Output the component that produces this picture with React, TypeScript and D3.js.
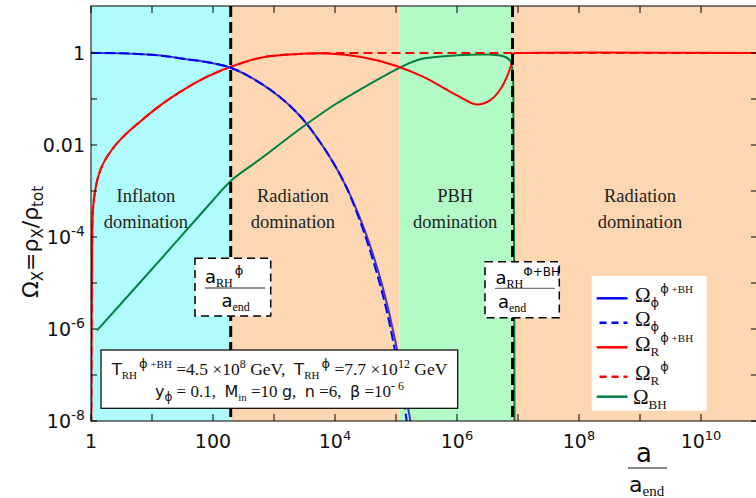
import React from 'react';
import * as d3 from 'd3';

// ---------- data (log10 values) ----------
const xTickExps = [0, 1, 2, 3, 4, 5, 6, 7, 8, 9, 10];
const xLabelExps = [0, 2, 4, 6, 8, 10];
const yTickExps = [0, -1, -2, -3, -4, -5, -6, -7, -8];
const yLabelExps = [0, -2, -4, -6, -8];

// phase boundaries (log10 a/a_end)
const logARH_phi = 2.29;
const logAPBHstart = 5.054;
const logARH_phiBH = 6.91;

const regionStarts = [0, logARH_phi, logAPBHstart, logARH_phiBH];
const regionEnds = [logARH_phi, logAPBHstart, logARH_phiBH, 11];
const regionNames1 = ['Inflaton', 'Radiation', 'PBH', 'Radiation'];
const regionNames2 = ['domination', 'domination', 'domination', 'domination'];
const regionLabelLogA = [0.9, 3.31, 5.97, 9.0];

// Omega_phi (phi+BH), solid
const omegaPhiBH: number[][] = [
  [0, 0], [0.5, -0.005], [1.0, -0.04], [1.316, -0.085], [1.59, -0.14], [1.864, -0.19],
  [2.136, -0.26], [2.29, -0.32], [2.4, -0.38], [2.5, -0.445], [2.79, -0.665], [3.1, -0.96],
  [3.34, -1.25], [3.53, -1.53], [3.91, -2.25], [4.19, -2.92], [4.46, -3.76], [4.68, -4.62],
  [4.85, -5.44], [4.98, -6.21], [5.1, -7.0], [5.23, -7.95], [5.32, -8.65],
];
// Omega_phi (phi only), dashed
const omegaPhi: number[][] = [
  [0, 0], [0.5, -0.005], [1.0, -0.04], [1.316, -0.085], [1.59, -0.14], [1.864, -0.19],
  [2.136, -0.26], [2.29, -0.32], [2.4, -0.38], [2.5, -0.445], [2.79, -0.665], [3.1, -0.96],
  [3.34, -1.25], [3.53, -1.53], [3.91, -2.25], [4.19, -2.93], [4.46, -3.84], [4.68, -4.76],
  [4.85, -5.62], [4.98, -6.45], [5.1, -7.3], [5.17, -7.95], [5.25, -8.65],
];
// Omega_R (phi+BH), solid
const omegaRBH: number[][] = [
  [0, -9], [0.003, -8.5], [0.01, -6.0], [0.018, -4.2], [0.03, -3.45], [0.06, -3.06],
  [0.115, -2.7], [0.197, -2.41], [0.333, -2.12], [0.497, -1.86], [0.77, -1.53], [1.044, -1.23],
  [1.316, -0.97], [1.59, -0.74], [1.864, -0.54], [2.136, -0.38], [2.29, -0.3], [2.79, -0.1],
  [3.34, -0.025], [3.89, -0.01], [4.43, -0.087], [4.98, -0.27], [5.45, -0.52], [6.0, -0.92],
  [6.32, -1.12], [6.54, -1.03], [6.7, -0.81], [6.84, -0.45], [6.9, -0.2], [6.93, -0.01],
  [7.0, 0], [11, 0],
];
// Omega_R (phi only), dashed
const omegaR: number[][] = [
  [0, -9], [0.003, -8.5], [0.01, -6.0], [0.018, -4.2], [0.03, -3.45], [0.06, -3.06],
  [0.115, -2.7], [0.197, -2.41], [0.333, -2.12], [0.497, -1.86], [0.77, -1.53], [1.044, -1.23],
  [1.316, -0.97], [1.59, -0.74], [1.864, -0.54], [2.136, -0.38], [2.29, -0.3], [2.79, -0.1],
  [3.34, -0.025], [3.89, -0.005], [4.5, 0], [11, 0],
];
// Omega_BH
const omegaBH: number[][] = [
  [0.1, -6.03], [1.2, -4.4], [2.0, -3.2], [2.3, -2.77], [2.77, -2.31], [3.53, -1.55],
  [4.0, -1.12], [4.43, -0.78], [5.03, -0.34], [5.2, -0.23], [5.45, -0.12], [6.0, -0.05],
  [6.54, -0.035], [6.76, -0.07], [6.87, -0.16], [6.91, -0.38], [6.925, -1.5], [6.935, -4],
  [6.945, -9],
];

// ---------- styles ----------
const SANS = "'DejaVu Sans', sans-serif";
const SERIF = "'Liberation Serif', 'Times New Roman', serif";
const regionColors = ['#b0fcfc', '#fdd7b2', '#b2fbc6', '#fdd7b2'];
const BLUE = '#0000ff';
const BLUE_SOLID = '#4636b4';
const RED = '#ff0000';
const GREEN = '#008040';

type Seg = { t: string; size: number; fam?: string; shift?: number; dx?: number };

function Rich(props: { x: number; y: number; segs: Seg[]; anchor?: string; fill?: string; transform?: string }) {
  const { x, y, segs, anchor = 'start', fill = '#000', transform } = props;
  let prev = 0;
  return (
    <text x={x} y={y} textAnchor={anchor} fill={fill} transform={transform} style={{ whiteSpace: 'pre' }}>
      {segs.map((s, i) => {
        const sh = s.shift || 0;
        const dy = -(sh - prev);
        prev = sh;
        return (
          <tspan key={i} dy={dy} dx={s.dx || 0} fontSize={s.size} fontFamily={s.fam || SANS}>
            {s.t}
          </tspan>
        );
      })}
    </text>
  );
}

export default function App() {
  const L = 91, R = 757, T = 6, B = 421;
  const x = d3.scaleLog().domain([1, Math.pow(10, 10.918)]).range([L, R]);
  const y = d3.scaleLog().domain([1e-8, Math.pow(10, 1.022)]).range([B, T]);
  const px = (e: number) => x(Math.pow(10, e));
  const py = (e: number) => y(Math.pow(10, e));
  const line = d3
    .line<number[]>()
    .x((d) => px(d[0]))
    .y((d) => py(d[1]))
    .curve(d3.curveCatmullRom.alpha(0.5));

  const xLab = (e: number): Seg[] =>
    e === 0 ? [{ t: '1', size: 19 }] : e === 2 ? [{ t: '100', size: 19 }] : [{ t: '10', size: 19 }, { t: String(e), size: 13, shift: 8 }];
  const yLab = (e: number): Seg[] =>
    e === 0 ? [{ t: '1', size: 19 }] : e === -2 ? [{ t: '0.01', size: 19 }] : [{ t: '10', size: 19 }, { t: '-' + String(-e), size: 14, shift: 8 }];

  const legendLines = [
    { c: BLUE, dash: '', y: 298.3 },
    { c: BLUE, dash: '7,5', y: 322.7 },
    { c: RED, dash: '', y: 347.3 },
    { c: RED, dash: '7,5', y: 376.7 },
    { c: GREEN, dash: '', y: 396.7 },
  ];
  const legendTexts: { y: number; segs: Seg[] }[] = [
    { y: 302, segs: [{ t: 'Ω', size: 21, fam: SERIF }, { t: 'ϕ', size: 13, shift: -5 }, { t: 'ϕ', size: 13, shift: 9, dx: 1 }, { t: ' +BH', size: 11, fam: SERIF, shift: 9 }] },
    { y: 326, segs: [{ t: 'Ω', size: 21, fam: SERIF }, { t: 'ϕ', size: 13, shift: -5 }] },
    { y: 351, segs: [{ t: 'Ω', size: 21, fam: SERIF }, { t: 'R', size: 13, fam: SERIF, shift: -5 }, { t: 'ϕ', size: 13, shift: 9, dx: 1 }, { t: ' +BH', size: 11, fam: SERIF, shift: 9 }] },
    { y: 380, segs: [{ t: 'Ω', size: 21, fam: SERIF }, { t: 'R', size: 13, fam: SERIF, shift: -5 }, { t: 'ϕ', size: 13, shift: 9, dx: 1 }] },
    { y: 403.5, segs: [{ t: 'Ω', size: 21, fam: SERIF }, { t: 'BH', size: 13, fam: SERIF, shift: -5 }] },
  ];

  const info1: Seg[] = [
    { t: 'T', size: 16.5 }, { t: 'RH', size: 11, fam: SERIF, shift: -4 }, { t: 'ϕ', size: 13, shift: 7, dx: 2 },
    { t: ' +BH', size: 11, fam: SERIF, shift: 7 }, { t: ' =4.5 ×10', size: 17.5, fam: SERIF },
    { t: '8', size: 12, fam: SERIF, shift: 7 }, { t: ' GeV,  ', size: 17.5, fam: SERIF },
    { t: 'T', size: 16.5 }, { t: 'RH', size: 11, fam: SERIF, shift: -4 }, { t: 'ϕ', size: 13, shift: 7, dx: 2 },
    { t: ' =7.7 ×10', size: 17.5, fam: SERIF }, { t: '12', size: 12, fam: SERIF, shift: 7 },
    { t: ' GeV', size: 17.5, fam: SERIF },
  ];
  const info2: Seg[] = [
    { t: 'y', size: 16 }, { t: 'ϕ', size: 12, shift: -4 }, { t: ' = 0.1,  ', size: 17, fam: SERIF },
    { t: 'M', size: 16 }, { t: 'in', size: 11, fam: SERIF, shift: -4 }, { t: ' =10 ', size: 17, fam: SERIF },
    { t: 'g', size: 16 }, { t: ',  ', size: 17, fam: SERIF }, { t: 'n', size: 16 }, { t: ' =6,  ', size: 17, fam: SERIF },
    { t: 'β', size: 16 }, { t: ' =10', size: 17, fam: SERIF }, { t: '- 6', size: 12, fam: SERIF, shift: 7 },
  ];

  return (
    <svg width={756} height={498} style={{ position: 'absolute', left: 0, top: 0, background: '#fff' }}>
      <defs>
        <clipPath id="plotClip">
          <rect x={L} y={T} width={R - L} height={B - T} />
        </clipPath>
      </defs>

      {/* phase regions */}
      <g clipPath="url(#plotClip)">
        {regionStarts.map((s, i) => (
          <rect key={i} x={px(s)} y={T} width={px(regionEnds[i]) - px(s)} height={B - T} fill={regionColors[i]} />
        ))}
      </g>

      {/* region labels */}
      {regionNames1.map((n, i) => (
        <g key={i} fontFamily={SERIF} fontSize={18.5} fill="#222" textAnchor="middle">
          <text x={px(regionLabelLogA[i])} y={202}>{n}</text>
          <text x={px(regionLabelLogA[i])} y={228}>{regionNames2[i]}</text>
        </g>
      ))}

      {/* curves */}
      <g clipPath="url(#plotClip)" fill="none" strokeWidth={2}>
        <path d={line(omegaBH) || ''} stroke={GREEN} />
        <path d={line(omegaRBH) || ''} stroke={RED} />
        <path d={line(omegaR) || ''} stroke={RED} strokeDasharray="9,5" />
        <path d={line(omegaPhiBH) || ''} stroke={BLUE_SOLID} />
        <path d={line(omegaPhi) || ''} stroke={BLUE} strokeDasharray="10,4" />
      </g>

      {/* vertical dashed reheating lines */}
      {[logARH_phi, logARH_phiBH].map((e, i) => (
        <line key={i} x1={px(e)} x2={px(e)} y1={T} y2={B} stroke="#000" strokeWidth={3} strokeDasharray="11,5" />
      ))}

      {/* ticks */}
      <g stroke="#000" strokeWidth={1}>
        {xTickExps.map((e) => (
          <g key={'xt' + e}>
            <line x1={px(e)} x2={px(e)} y1={B} y2={B - 7} />
            <line x1={px(e)} x2={px(e)} y1={T} y2={T + 7} />
          </g>
        ))}
        {yTickExps.map((e) => (
          <g key={'yt' + e}>
            <line x1={L} x2={L + 6} y1={py(e)} y2={py(e)} />
            <line x1={R} x2={R - 6} y1={py(e)} y2={py(e)} />
          </g>
        ))}
        <rect x={L} y={T} width={R - L} height={B - T} fill="none" />
      </g>

      {/* tick labels */}
      {xLabelExps.map((e) => (
        <Rich key={'xl' + e} x={px(e)} y={448} segs={xLab(e)} anchor="middle" fill="#111" />
      ))}
      {yLabelExps.map((e) => (
        <Rich key={'yl' + e} x={85} y={py(e) + 7} segs={yLab(e)} anchor="end" fill="#111" />
      ))}

      {/* x-axis title */}
      <text x={644} y={462} textAnchor="middle" fontFamily={SANS} fontSize={26} fill="#111">a</text>
      <line x1={628} x2={667} y1={468} y2={468} stroke="#111" strokeWidth={1} />
      <Rich x={629} y={492} segs={[{ t: 'a', size: 22 }, { t: 'end', size: 15, fam: SERIF, shift: -4 }]} fill="#111" />

      {/* y-axis title */}
      <Rich
        x={0}
        y={0}
        anchor="middle"
        fill="#111"
        transform="translate(38,242) rotate(-90)"
        segs={[
          { t: 'Ω', size: 22 }, { t: 'X', size: 15, shift: -5 }, { t: '=', size: 22 }, { t: 'ρ', size: 22 },
          { t: 'X', size: 15, shift: -5 }, { t: '/', size: 22 }, { t: 'ρ', size: 22 }, { t: 'tot', size: 15, shift: -5 },
        ]}
      />

      {/* annotation box: a_RH^phi / a_end */}
      <rect x={195} y={258.3} width={75.7} height={57.7} fill="#fff" stroke="#000" strokeWidth={1.5} strokeDasharray="8,5" />
      <Rich x={205} y={283} segs={[{ t: 'a', size: 18 }, { t: 'RH', size: 12, fam: SERIF, shift: -4 }, { t: 'ϕ', size: 13, shift: 8, dx: 2 }]} />
      <line x1={205} x2={265} y1={288} y2={288} stroke="#222" strokeWidth={1} />
      <Rich x={221.5} y={307} segs={[{ t: 'a', size: 18 }, { t: 'end', size: 12, fam: SERIF, shift: -4 }]} />

      {/* annotation box: a_RH^{phi+BH} / a_end */}
      <rect x={485} y={261.7} width={74.3} height={56} fill="#fff" stroke="#000" strokeWidth={1.5} strokeDasharray="8,5" />
      <Rich x={495.5} y={284} segs={[{ t: 'a', size: 18 }, { t: 'RH', size: 12, fam: SERIF, shift: -4 }, { t: 'Φ+BH', size: 12, shift: 8 }]} />
      <line x1={495} x2={555} y1={288.3} y2={288.3} stroke="#555" strokeWidth={1} />
      <Rich x={498} y={308} segs={[{ t: 'a', size: 18 }, { t: 'end', size: 12, fam: SERIF, shift: -4 }]} />

      {/* info box */}
      <rect x={101} y={350} width={356.7} height={58.3} fill="#fff" stroke="#000" strokeWidth={1.2} />
      <Rich x={279.5} y={375} segs={info1} anchor="middle" fill="#111" />
      <Rich x={279.5} y={397} segs={info2} anchor="middle" fill="#111" />

      {/* legend */}
      <rect x={591.7} y={276} width={115} height={134.7} fill="#fff" />
      {legendLines.map((l, i) => (
        <line key={i} x1={l.dash ? 599.5 : 596.7} x2={627.5} y1={l.y} y2={l.y} stroke={l.c} strokeWidth={2.5} strokeDasharray={l.dash || undefined} />
      ))}
      {legendTexts.map((t, i) => (
        <Rich key={i} x={i === 4 ? 633 : 635} y={t.y} segs={t.segs} fill="#111" />
      ))}
    </svg>
  );
}
